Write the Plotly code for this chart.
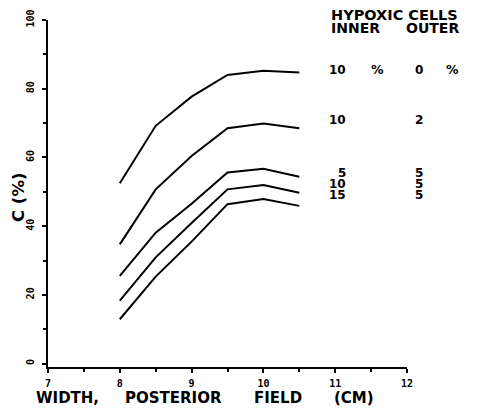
import plotly.graph_objects as go

# ---- data ----
width_cm = [8.0, 8.5, 9.0, 9.5, 10.0, 10.5]
c_in10_out0 = [52.5, 69.2, 77.7, 84.0, 85.2, 84.7]
c_in10_out2 = [34.7, 50.7, 60.4, 68.5, 69.9, 68.5]
c_in5_out5 = [25.5, 38.1, 46.5, 55.6, 56.7, 54.4]
c_in10_out5 = [18.3, 30.9, 40.9, 50.7, 52.0, 49.7]
c_in15_out5 = [12.9, 25.3, 35.5, 46.4, 47.9, 45.9]
series = [c_in10_out0, c_in10_out2, c_in5_out5, c_in10_out5, c_in15_out5]

inner_labels = ["10", "10", "5", "10", "15"]
outer_labels = ["0", "2", "5", "5", "5"]

x_ticks = [7, 8, 9, 10, 11, 12]
y_ticks = [0, 20, 40, 60, 80, 100]

legend_title = "HYPOXIC CELLS"
legend_cols = ["INNER", "OUTER"]
x_title_words = ["WIDTH,", "POSTERIOR", "FIELD", "(CM)"]
y_title = "C (%)"

# ---- layout helpers (image pixel -> paper) ----
IMG_W, IMG_H = 477, 410
OFF = 8  # default page body margin
W, H = IMG_W - OFF, IMG_H - OFF
L, R, T, B = 48, 407, 20, 367  # plot area in image pixels


def px(x):
    return (x - L) / (R - L)


def py(y):
    return (B - y) / (B - T)


FONT = "DejaVu Sans"
fig = go.Figure()
for s in series:
    fig.add_trace(go.Scatter(x=width_cm, y=s, mode="lines",
                             line=dict(color="black", width=2),
                             showlegend=False, hoverinfo="skip"))

ann = []


def add(text, x, y, size=14, xanchor="center", angle=0):
    ann.append(dict(text=text, x=px(x), y=py(y), xref="paper", yref="paper",
                    showarrow=False, xanchor=xanchor, yanchor="middle",
                    textangle=angle, borderpad=0,
                    font=dict(family=FONT, size=size, color="black", weight="bold")))


# legend block
add(legend_title, 330, 15, size=14.5, xanchor="left")
add(legend_cols[0], 330, 28, size=14, xanchor="left")
add(legend_cols[1], 405, 28, size=14, xanchor="left")
row_y = [70, 120, 173, 184, 195]
for i, (a, b) in enumerate(zip(inner_labels, outer_labels)):
    add(a, 347, row_y[i], size=12, xanchor="right")
    add(b, 419, row_y[i], size=12, xanchor="center")
add("%", 377, row_y[0], size=12.5)
add("%", 452, row_y[0], size=12.5)

# x-axis title, word by word
word_left = [35, 124, 253, 333]
for w, xl in zip(x_title_words, word_left):
    add(w, xl, 398, size=15, xanchor="left")

# y-axis title
add(y_title, 18, 198, size=16.5, angle=-90)

tick_font = dict(family="DejaVu Sans Mono", size=10, color="black", weight="bold")
fig.update_layout(
    width=W, height=H,
    margin=dict(l=L - OFF, r=IMG_W - R, t=T - OFF, b=IMG_H - B, pad=0,
                autoexpand=False),
    paper_bgcolor="white", plot_bgcolor="white",
    annotations=ann,
    xaxis=dict(range=[7, 12], tickvals=x_ticks, ticktext=[str(v) for v in x_ticks],
               automargin=False,
               showgrid=False, zeroline=False, showline=True, linecolor="black",
               linewidth=2, ticks="outside", ticklen=4, tickwidth=1.5,
               tickcolor="black", ticklabelstandoff=2,
               minor=dict(dtick=0.5, ticks="outside", ticklen=3, tickwidth=1.5,
                          tickcolor="black"),
               tickfont=tick_font),
    yaxis=dict(range=[-1, 100], tickvals=y_ticks, ticktext=[str(v) for v in y_ticks],
               automargin=False,
               showgrid=False, zeroline=False, showline=True, linecolor="black",
               linewidth=2, ticks="outside", ticklen=4, tickwidth=1.5,
               tickcolor="black", tickangle=-90, ticklabelstandoff=4,
               minor=dict(dtick=10, ticks="outside", ticklen=3, tickwidth=1.5,
                          tickcolor="black"),
               tickfont=tick_font),
)

fig.write_html("out.html")
